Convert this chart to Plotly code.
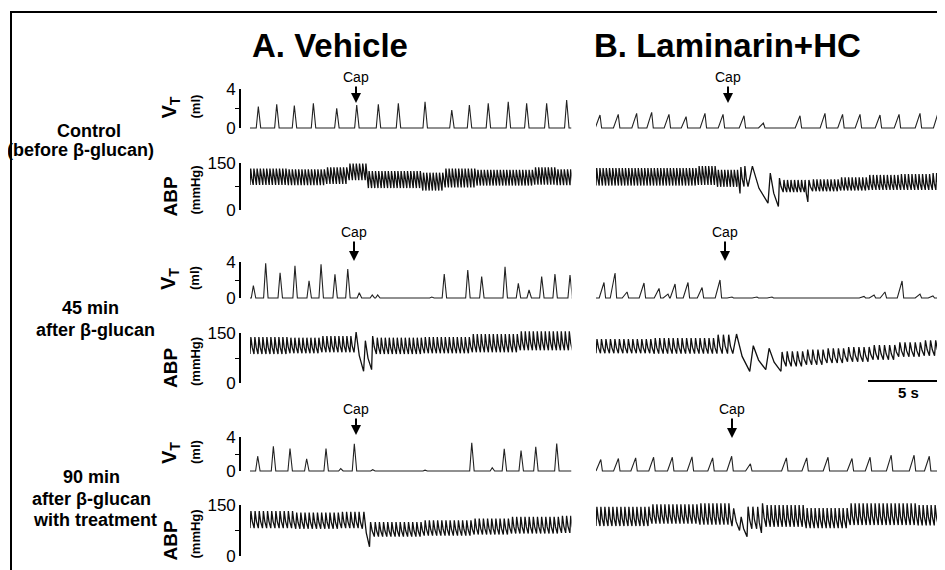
import plotly.graph_objects as go

W, H = 945, 570
OFF = 8                      # browser page body margin
PX_PER_S = 16.0

# ---------------- data ----------------
# Tidal volume: breath peak times (s) and peak volumes (ml)
vt_A1_t = [0.52, 1.67, 2.77, 3.96, 5.42, 6.67, 8.02, 9.27, 10.94, 12.61, 13.71, 14.89, 16.14, 17.29, 18.54, 19.79]
vt_A1_h = [2.19, 2.43, 2.29, 2.53, 2.02, 2.36, 2.43, 2.53, 2.70, 1.85, 2.36, 2.53, 2.70, 2.53, 2.53, 2.87]
vt_B1_t = [0.25, 1.39, 2.54, 3.48, 4.56, 5.63, 6.81, 7.94, 9.25, 10.46, 12.75, 14.31, 15.41, 16.5, 17.75, 18.94, 20.25, 21.39]
vt_B1_h = [1.33, 1.40, 1.50, 1.61, 1.40, 1.16, 1.50, 1.40, 1.26, 0.5, 1.26, 1.50, 1.40, 1.40, 1.33, 1.40, 1.50, 1.61]
vt_A2_t = [0.21, 0.98, 1.88, 2.81, 3.69, 4.44, 5.31, 6.11, 6.83, 7.64, 7.98, 11.36, 12.14, 13.61, 14.48, 15.94, 16.77, 17.44, 18.23, 19.06, 20.0]
vt_A2_h = [1.37, 3.85, 2.81, 3.59, 1.92, 3.74, 2.63, 3.22, 0.59, 0.33, 0.33, 0.1, 2.67, 3.11, 2.37, 3.48, 1.63, 0.89, 2.37, 2.67, 2.56]
vt_B2_t = [0.5, 1.19, 1.94, 3.0, 3.94, 4.5, 4.94, 5.75, 6.63, 7.75, 8.5, 10.06, 11.0, 16.75, 17.38, 18.06, 19.13, 20.25, 21.06, 21.69]
vt_B2_h = [1.72, 2.78, 0.67, 1.67, 1.06, 0.44, 1.56, 1.72, 1.17, 2.0, 0.11, 0.11, 0.11, 0.17, 0.33, 0.67, 1.89, 0.44, 0.22, 1.11]
vt_A3_t = [0.48, 1.46, 2.5, 3.54, 4.75, 5.67, 6.52, 7.67, 10.94, 13.86, 15.14, 15.89, 16.94, 17.86, 19.17]
vt_A3_h = [1.74, 2.92, 2.65, 1.44, 2.65, 0.29, 3.21, 0.15, 0.1, 3.33, 0.38, 2.62, 2.41, 2.85, 3.24]
vt_B3_t = [0.3, 1.4, 2.48, 3.6, 4.77, 6.0, 7.29, 8.48, 9.65, 11.9, 13.17, 14.5, 16.0, 17.13, 18.45, 19.88, 20.83, 21.78]
vt_B3_h = [1.35, 1.47, 1.55, 1.62, 1.62, 1.67, 1.55, 1.74, 0.85, 1.55, 1.55, 1.62, 1.47, 1.62, 1.86, 1.86, 1.74, 1.62]

# Arterial blood pressure: stretches of beats
# (stretch duration s, beat period s, systolic mmHg, diastolic foot mmHg)
abp_A1 = [(2.5, .2, 132, 80), (2.5, .2, 130, 79), (1.4, .2, 136, 83), (1.1, .2, 148, 95), (3.4, .2, 124, 70),
          (1.4, .2, 119, 62), (2.0, .2, 132, 72), (3.6, .2, 128, 78), (1.4, .2, 136, 81), (1.8, .2, 130, 79)]
abp_B1 = [(6.5, .2, 134, 78), (1.25, .2, 140, 80), (1.44, .2, 128, 74), (.25, .25, 137, 53), (.25, .25, 140, 75),
          (1.25, 1.25, 140, 75), (.65, .65, 118, 22), (.3, .3, 102, 11), (1.5, .22, 96, 57), (.3, .3, 96, 26),
          (1.8, .22, 98, 60), (1.8, .22, 104, 62), (2.0, .22, 112, 64), (2.0, .22, 115, 64), (3.0, .22, 118, 64),
          (2.0, .22, 115, 62)]
abp_A2 = [(2.5, .25, 138, 87), (2.0, .25, 136, 89), (1.95, .25, 141, 92), (.6, .6, 153, 92), (.5, .5, 127, 35),
          (.3, .3, 141, 40), (3.1, .25, 136, 87), (3.1, .25, 138, 89), (3.1, .25, 147, 92), (4.0, .25, 155, 98)]
abp_B2 = [(3.6, .28, 132, 89), (3.92, .28, 135, 88), (1.0, .33, 145, 88), (1.06, 1.06, 147, 88), (1.0, 1.0, 112, 35),
          (.95, .95, 104, 40), (.32, .32, 93, 35), (1.28, .32, 95, 50), (1.28, .32, 100, 55), (1.28, .32, 104, 60),
          (1.6, .32, 108, 64), (1.6, .32, 114, 70), (1.6, .32, 122, 79), (1.6, .32, 128, 82), (1.6, .32, 136, 84)]
abp_A3 = [(2.86, .26, 132, 82), (2.86, .26, 128, 80), (1.3, .26, 130, 82), (.45, .45, 130, 80), (.3, .3, 100, 27),
          (3.0, .26, 100, 57), (3.0, .26, 105, 60), (2.4, .26, 110, 63), (3.0, .26, 115, 66), (3.6, .26, 118, 68)]
abp_B3 = [(3.4, .25, 145, 88), (3.1, .25, 152, 95), (2.0, .25, 155, 92), (.47, .47, 140, 88), (.47, .47, 115, 75),
          (.3, .3, 145, 57), (.6, .3, 145, 80), (.3, .3, 155, 68), (2.5, .25, 150, 86), (2.75, .25, 141, 82),
          (4.25, .25, 155, 91), (4.25, .25, 150, 90), (4.25, .25, 156, 92)]

row_labels = [["Control", "(before β-glucan)"], ["45 min", "after β-glucan"],
              ["90 min", "after β-glucan", "with treatment"]]
col_titles = ["A. Vehicle", "B. Laminarin+HC"]

# ---------------- layout geometry (pixels, in the final window) ----------------
rows_px = [dict(vt0=128, vt4=89, abp0=210, abp150=163, cap_y=77, tipA=(356, 103), tipB=(728, 103)),
           dict(vt0=298, vt4=262, abp0=383, abp150=333, cap_y=232, tipA=(354, 261), tipB=(725, 261)),
           dict(vt0=471, vt4=437, abp0=556, abp150=505, cap_y=409, tipA=(356, 435), tipB=(732, 438))]
label_pos = [[(89, 131), (80, 150)], [(90, 308), (95, 330)], [(91, 477), (91, 499), (95, 520)]]
colA = (250, 571.5)
colB = (596, 953)
AX_X = 240


def px_x(p):
    return (p - OFF) / W


def px_y(p):
    return 1 - (p - OFF) / H


def vt_xy(times, heights, rise, fall, t_end):
    xs, ys = [0.0], [0.0]
    for t, h in zip(times, heights):
        xs += [t - rise, t, t + fall]
        ys += [0.0, h, 0.0]
    xs.append(t_end)
    ys.append(0.0)
    return xs, ys


def abp_xy(stretches):
    beats = []
    for dur, p, s, f in stretches:
        beats += [(p, s, f)] * max(1, round(dur / p))
    xs, ys = [], []
    t = 0.0
    for i, (p, s, f) in enumerate(beats):
        nf = beats[i + 1][2] if i + 1 < len(beats) else f
        xs += [t, t + 0.22 * p, t + 0.55 * p]
        ys += [f, s, nf + 0.4 * (s - nf)]
        t += p
    xs.append(t)
    ys.append(beats[-1][2])
    return xs, ys


fig = go.Figure()
layout = dict(width=W, height=H, margin=dict(l=0, r=0, t=0, b=0, pad=0, autoexpand=False), showlegend=False,
              plot_bgcolor="rgba(0,0,0,0)", paper_bgcolor="white",
              font=dict(family="Liberation Sans, Arial, sans-serif", color="black"))

tA_end = (colA[1] - colA[0]) / PX_PER_S
tB_end = (colB[1] - colB[0]) / PX_PER_S
layout["xaxis"] = dict(domain=[px_x(colA[0]), px_x(colA[1])], range=[0, tA_end], visible=False, anchor="y")
layout["xaxis2"] = dict(domain=[px_x(colB[0]), min(1.0, px_x(colB[1]))], range=[0, tB_end], visible=False,
                        anchor="y2")

vt_data = [[(vt_A1_t, vt_A1_h), (vt_B1_t, vt_B1_h)], [(vt_A2_t, vt_A2_h), (vt_B2_t, vt_B2_h)],
           [(vt_A3_t, vt_A3_h), (vt_B3_t, vt_B3_h)]]
abp_data = [[abp_A1, abp_B1], [abp_A2, abp_B2], [abp_A3, abp_B3]]

ax_id = [0]


def new_axis():
    ax_id[0] += 1
    return ax_id[0]


def yname(i):
    return "yaxis" if i == 1 else f"yaxis{i}"


def yref(i):
    return "y" if i == 1 else f"y{i}"


tick_font = dict(size=17, family="Liberation Sans, Arial, sans-serif", color="black")

for r, rp in enumerate(rows_px):
    for kind in ("vt", "abp"):
        if kind == "vt":
            y0, yt, top, pad = rp["vt0"], rp["vt4"], 4.0, 0.6
        else:
            y0, yt, top, pad = rp["abp0"], rp["abp150"], 150.0, 30.0
        s = (y0 - yt) / top                     # px per unit
        bot_px = min(y0 + pad * s, OFF + H)
        top_px = max(yt - pad * s, OFF)
        rng = [-(bot_px - y0) / s, (y0 - top_px) / s]
        dom = [px_y(bot_px), px_y(top_px)]
        for c in range(2):
            i = new_axis()
            xa = "x" if c == 0 else "x2"
            layout[yname(i)] = dict(domain=dom, range=rng, visible=False, anchor=xa)
            if kind == "vt":
                tt, hh = vt_data[r][c]
                if c == 0:
                    xs, ys = vt_xy(tt, hh, 0.13, 0.15, tA_end)
                else:
                    xs, ys = vt_xy(tt, hh, 0.30, 0.10, tB_end)
                lw, col = 1.1, "#222222"
            else:
                xs, ys = abp_xy(abp_data[r][c])
                lw, col = 1.3, "#111111"
            fig.add_trace(go.Scatter(x=xs, y=ys, mode="lines", xaxis=xa, yaxis=yref(i),
                                     line=dict(color=col, width=lw), hoverinfo="skip"))
        # bracket axis for column A
        i = new_axis()
        layout[yname(i)] = dict(domain=[px_y(y0), px_y(yt)], range=[0, top], anchor="free",
                                position=px_x(AX_X), side="left", showline=True, linecolor="black",
                                linewidth=1.6, ticks="inside", ticklen=6, tickwidth=1.6, tickcolor="black",
                                tickvals=[0, top], ticktext=["0", "4" if kind == "vt" else "150"],
                                tickfont=tick_font, showgrid=False, zeroline=False, automargin=False,
                                minor=dict(tickvals=[top / 2], ticks="outside", ticklen=4,
                                           tickwidth=1.4, tickcolor="black", showgrid=False))
        fig.add_trace(go.Scatter(x=[None], y=[None], xaxis="x", yaxis=yref(i), mode="lines",
                                 hoverinfo="skip"))

fig.update_layout(**layout)

ann = []
# column titles
ann.append(dict(text="<b>" + col_titles[0] + "</b>", x=px_x(330), y=px_y(46), xref="paper", yref="paper",
                showarrow=False, font=dict(size=33), xanchor="center", yanchor="middle"))
ann.append(dict(text="<b>" + col_titles[1] + "</b>", x=px_x(727), y=px_y(46), xref="paper", yref="paper",
                showarrow=False, font=dict(size=33), xanchor="center", yanchor="middle"))
# row labels
for r in range(3):
    for txt, (lx, ly) in zip(row_labels[r], label_pos[r]):
        ann.append(dict(text="<b>" + txt + "</b>", x=px_x(lx), y=px_y(ly), xref="paper", yref="paper",
                        showarrow=False, font=dict(size=18), xanchor="center", yanchor="middle"))
    rp = rows_px[r]
    vt_c = (rp["vt0"] + rp["vt4"]) / 2
    abp_c = (rp["abp0"] + rp["abp150"]) / 2
    ann.append(dict(text="<b>V<sub>T</sub></b>", x=px_x(170), y=px_y(vt_c - 1), xref="paper", yref="paper",
                    showarrow=False, textangle=-90, font=dict(size=20), xanchor="center", yanchor="middle"))
    ann.append(dict(text="<b>(ml)</b>", x=px_x(195), y=px_y(vt_c - 2), xref="paper", yref="paper",
                    showarrow=False, textangle=-90, font=dict(size=13), xanchor="center", yanchor="middle"))
    ann.append(dict(text="<b>ABP</b>", x=px_x(170), y=px_y(abp_c + 10), xref="paper", yref="paper",
                    showarrow=False, textangle=-90, font=dict(size=19), xanchor="center", yanchor="middle"))
    ann.append(dict(text="<b>(mmHg)</b>", x=px_x(195), y=px_y(abp_c + 4), xref="paper", yref="paper",
                    showarrow=False, textangle=-90, font=dict(size=13), xanchor="center", yanchor="middle"))
    for tip in (rp["tipA"], rp["tipB"]):
        ann.append(dict(text="Cap", x=px_x(tip[0]), y=px_y(tip[1]), xref="paper", yref="paper",
                        showarrow=True, ax=0, ay=rp["cap_y"] - tip[1], arrowhead=2, arrowsize=1,
                        arrowwidth=2, arrowcolor="black", font=dict(size=14), standoff=0, startstandoff=0))

# 5 s scale bar (in column B time units)
bar_t0 = (868 - colB[0]) / PX_PER_S
ann.append(dict(text="<b>5 s</b>", x=bar_t0 + 2.5, y=px_y(392), xref="x2", yref="paper",
                showarrow=False, font=dict(size=15), xanchor="center", yanchor="middle"))
fig.update_layout(annotations=ann)

shapes = [dict(type="line", xref="x2", yref="paper", x0=bar_t0, x1=bar_t0 + 5, y0=px_y(381), y1=px_y(381),
               line=dict(color="black", width=1.8)),
          dict(type="rect", xref="paper", yref="paper", x0=px_x(11), x1=1.05, y0=px_y(12), y1=-0.05,
               line=dict(color="black", width=2))]
fig.update_layout(shapes=shapes)

fig.write_html("out.html")
